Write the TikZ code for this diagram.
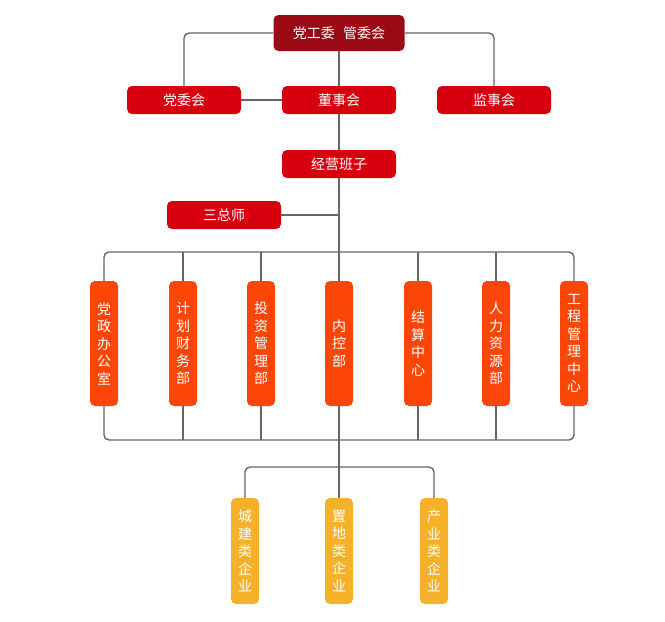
\documentclass[tikz,border=0pt]{standalone}
\usepackage{fontspec}
\setmainfont{Noto Sans CJK SC}
\usetikzlibrary{positioning,calc}

\definecolor{topred}{HTML}{9B0A14}
\definecolor{boxred}{HTML}{D7000F}
\definecolor{deptorange}{HTML}{FC4608}
\definecolor{compyellow}{HTML}{F5B12A}
\definecolor{linegray}{HTML}{666666}

\begin{document}
\begin{tikzpicture}[x=1pt,y=-1pt,
    box/.style={rounded corners=5pt,text=white,inner sep=0pt,font=\fontsize{14}{16}\selectfont},
    wide/.style={box,fill=boxred,minimum width=114pt,minimum height=28pt},
    dept/.style={box,fill=deptorange,minimum width=28pt,minimum height=125pt,align=center,font=\fontsize{14}{17.5}\selectfont},
    comp/.style={box,fill=compyellow,minimum width=28pt,minimum height=106pt,align=center,font=\fontsize{14}{17.5}\selectfont},
    conn/.style={draw=linegray,line width=1.4pt,rounded corners=5pt}]
        \useasboundingbox (0,0) rectangle (665,622);
        %%% top levels
        \node[box,fill=topred,minimum width=131pt,minimum height=36pt] (gwh) at (339,33) {党工委\hspace{0.6em}管委会};
        \node[wide] (dwh) at (184,100) {党委会};
        \node[wide] (dsh) at (339,100) {董事会};
        \node[wide] (jsh) at (494,100) {监事会};
        \node[wide] (jybz) at (339,164) {经营班子};
        \node[wide] (szs) at (224,215) {三总师};

        %%% departments
        \node[dept] (d1) at (104,343.5) {党\\政\\办\\公\\室};
        \node[dept] (d2) at (183,343.5) {计\\划\\财\\务\\部};
        \node[dept] (d3) at (261,343.5) {投\\资\\管\\理\\部};
        \node[dept] (d4) at (339,343.5) {内\\控\\部};
        \node[dept] (d5) at (418,343.5) {结\\算\\中\\心};
        \node[dept] (d6) at (496,343.5) {人\\力\\资\\源\\部};
        \node[dept] (d7) at (574,343.5) {工\\程\\管\\理\\中\\心};

        %%% companies
        \node[comp] (c1) at (245,551) {城\\建\\类\\企\\业};
        \node[comp] (c2) at (339,551) {置\\地\\类\\企\\业};
        \node[comp] (c3) at (434,551) {产\\业\\类\\企\\业};

        \coordinate (busT) at (339,252);
        \coordinate (busB) at (339,440);
        \coordinate (busC) at (339,467);

        \draw[conn] (gwh.west) -| (dwh.north);
        \draw[conn] (gwh.east) -| (jsh.north);
        \draw[conn] (gwh.south) -- (dsh.north);
        \draw[conn] (dwh.east) -- (dsh.west);
        \draw[conn] (dsh.south) -- (jybz.north);
        \draw[conn] (jybz.south) -- (d4.north);
        \draw[conn] (szs.east) -- (szs.east -| d4.north);

        \draw[conn] (d1.north) |- (busT) -| (d7.north);
        \draw[conn] (d2.north) -- (d2.north |- busT);
        \draw[conn] (d3.north) -- (d3.north |- busT);
        \draw[conn] (d5.north) -- (d5.north |- busT);
        \draw[conn] (d6.north) -- (d6.north |- busT);

        \draw[conn] (d1.south) |- (busB) -| (d7.south);
        \draw[conn] (d2.south) -- (d2.south |- busB);
        \draw[conn] (d3.south) -- (d3.south |- busB);
        \draw[conn] (d5.south) -- (d5.south |- busB);
        \draw[conn] (d6.south) -- (d6.south |- busB);
        \draw[conn] (d4.south) -- (c2.north);

        \draw[conn] (c1.north) |- (busC) -| (c3.north);
\end{tikzpicture}
\end{document}
